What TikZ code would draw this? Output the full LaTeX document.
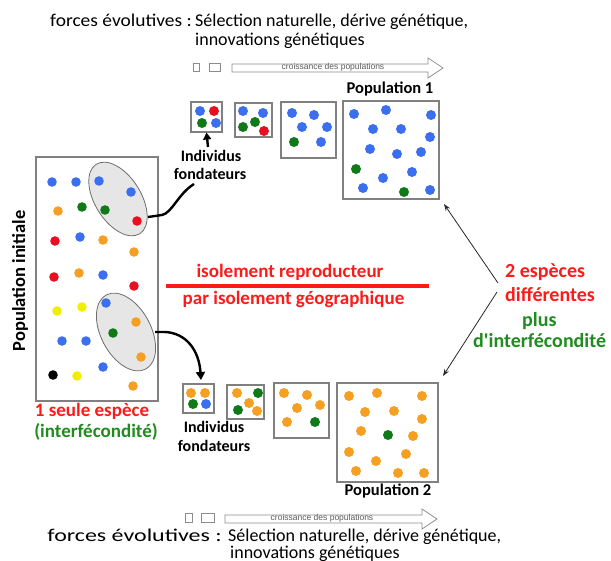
\documentclass[tikz,border=0pt]{standalone}
\usepackage{fontspec}
\setmainfont{Carlito}
\newfontfamily\arialf{Liberation Sans}
\newfontfamily\carlplain{Carlito}[Ligatures=ResetAll]
\usetikzlibrary{shapes.geometric,arrows.meta}
\definecolor{dB}{HTML}{3C6EF0}
\definecolor{dR}{HTML}{E81020}
\definecolor{dG}{HTML}{107A18}
\definecolor{dO}{HTML}{F5A023}
\definecolor{dY}{HTML}{F2EE00}
\definecolor{dK}{HTML}{000000}
\definecolor{tred}{HTML}{FF1A1A}
\definecolor{tgreen}{HTML}{1E8C1E}
\definecolor{boxgray}{HTML}{808080}
\definecolor{ellfill}{HTML}{E6E6E6}
\definecolor{ellline}{HTML}{6E6E6E}
\definecolor{rowgray}{HTML}{8C8C8C}
\definecolor{rowtxt}{HTML}{5A5A5A}
\begin{document}
\begin{tikzpicture}[x=1pt,y=-1pt,
  popbox/.style={draw=boxgray, line width=1.1pt, inner sep=0pt},
  smallbox/.style={draw=rowgray, line width=0.7pt, inner sep=0pt, minimum height=8pt},
  ell/.style={ellipse, draw=ellline, fill=ellfill, line width=0.8pt, inner sep=0pt},
  lbl/.style={inner sep=0pt, font=\fontsize{18}{20}\selectfont},
  blbl/.style={inner sep=0pt, font=\bfseries\fontsize{16.5}{18}\selectfont},
  redlbl/.style={inner sep=0pt, text=tred, font=\bfseries\fontsize{19}{21}\selectfont},
  greenlbl/.style={inner sep=0pt, text=tgreen, font=\bfseries\fontsize{19}{21}\selectfont},
  rowtext/.style={inner sep=0pt, text=rowtxt, font=\arialf\fontsize{8.5}{9}\selectfont},
  thickcon/.style={line width=2.4pt, black},
  thincon/.style={line width=0.8pt, black!85, -{Stealth[length=7pt,width=5pt]}},
]
\useasboundingbox (0,0) rectangle (611,561);

% ---------- top text ----------
\node[lbl, anchor=base east] (ftop) at (192,27) {\scalebox{1.08}[1]{forces évolutives :}};
\node[lbl, anchor=base west] (stop1) at (195,27) {Sélection naturelle, dérive génétique,};
\node[lbl, anchor=base west] (stop2) at (195,46) {innovations génétiques};

% ---------- top growth row ----------
\node[smallbox, minimum width=6pt] (tr1) at (196,67) {};
\node[smallbox, minimum width=11pt] (tr2) at (214.5,67) {};
\draw[rowgray, line width=0.7pt] (232,64) -- (428,64) -- (428,58) -- (443,68) -- (428,78) -- (428,72) -- (232,72) -- cycle;
\node[rowtext] (trt) at (333,67.5) {croissance des populations};

% ---------- top populations ----------
\node[popbox, minimum width=31pt, minimum height=30pt] (ta) at (206.5,117) {};
\node[popbox, minimum width=37pt, minimum height=34pt] (tb) at (253.5,120) {};
\node[popbox, minimum width=55pt, minimum height=56pt] (tc) at (308.5,130) {};
\node[popbox, minimum width=96pt, minimum height=98pt] (p1) at (391,150) {};
\node[blbl, anchor=base] (p1t) at (390,94) {Population 1};

\foreach \x/\y/\c in {200/111/dB,214/111/dR,202/123/dG,216/123/dB,
  243/111/dB,263/113/dB,255/122/dG,243/127/dG,264/131/dR,
  292/113/dB,314/115/dB,302/127/dB,327/127/dB,294/142/dG,321/142/dB,
  354/114/dB,386/110/dB,431/115/dB,373/129/dB,401/129/dB,430/137/dB,
  370/149/dB,397/154/dB,421/152/dB,356/169/dG,412/172/dB,383/178/dB,
  363/188/dB,404/192/dG,430/190/dB}
  \fill[\c] (\x,\y) circle[radius=5];

\node[blbl, anchor=base, font=\bfseries\fontsize{16}{18}\selectfont] (tind) at (211,162) {Individus};
\node[blbl, anchor=base, font=\bfseries\fontsize{16}{18}\selectfont] (tfon) at (210,180) {fondateurs};
\coordinate (tarrs) at (208,147);
\draw[thickcon, -{Triangle[length=7pt,width=8pt]}] (tarrs) -- (ta.south);

% ---------- initial population ----------
\node[popbox, minimum width=122pt, minimum height=244pt] (init) at (97,279) {};
\node[ell, minimum width=46pt, minimum height=82pt, rotate=32] (e1) at (118,199) {};
\node[ell, minimum width=50pt, minimum height=84pt, rotate=28] (e2) at (126,332) {};

\foreach \x/\y/\c in {52/182/dB,76/182/dB,99/181/dB,131/192/dB,
  58/211/dO,82/207/dG,105/210/dG,137/221/dR,
  55/241/dR,80/237/dB,103/240/dO,134/252/dO,
  54/277/dR,79/273/dO,103/275/dB,134/286/dR,
  57/311/dY,82/307/dY,106/303/dB,136/322/dO,
  113/333/dG,62/341/dB,86/341/dB,141/357/dO,
  53/375/dK,77/376/dY,103/367/dB,133/386/dO}
  \fill[\c] (\x,\y) circle[radius=4.8];

\node[inner sep=0pt, anchor=base, rotate=90, font=\bfseries\fontsize{18.5}{20}\selectfont] (pinit) at (25,281) {Population initiale};
\node[redlbl, anchor=base] (seule) at (92,417) {1 seule espèce};
\node[greenlbl, anchor=base] (interf) at (96,438) {(interfécondité)};

% connectors from ellipses
\coordinate (c1s) at (148,217);
\coordinate (c1e) at (194,184);
\draw[thickcon] (c1s) -- (162,215) .. controls (172,213) and (178,194) .. (c1e);
\coordinate (c2s) at (155,332);
\coordinate (c2e) at (201,380);
\draw[thickcon, -{Triangle[length=8pt,width=9pt]}] (c2s) -- (165,332) .. controls (186,333) and (199,350) .. (c2e);

% ---------- central text ----------
\coordinate (rl1) at (166,286);
\coordinate (rl2) at (429,286);
\draw[tred, line width=4pt] (rl1) -- (rl2);
\node[redlbl, anchor=base] (iso1) at (290,278) {isolement reproducteur};
\node[redlbl, anchor=base] (iso2) at (293.5,305) {par isolement géographique};

% ---------- right text ----------
\node[redlbl, anchor=base west, font=\bfseries\fontsize{20}{22}\selectfont] (esp1) at (505,278) {2 espèces};
\node[redlbl, anchor=base west, font=\bfseries\fontsize{20}{22}\selectfont] (esp2) at (505,302) {différentes};
\node[greenlbl, anchor=base west, font=\bfseries\fontsize{20}{22}\selectfont] (esp3) at (522,327) {plus};
\node[greenlbl, anchor=base west, font=\carlplain\bfseries\fontsize{20}{22}\selectfont] (esp4) at (473,348) {d'interfécondité};
\coordinate (ra1) at (498,283);
\coordinate (ra2) at (497,292);
\coordinate (rt1) at (444,204);
\coordinate (rt2) at (443,376);
\draw[thincon] (ra1) -- (rt1);
\draw[thincon] (ra2) -- (rt2);

% ---------- bottom populations ----------
\node[popbox, minimum width=31pt, minimum height=29pt] (ba) at (198.5,398.5) {};
\node[popbox, minimum width=37pt, minimum height=34pt] (bb) at (245.5,402) {};
\node[popbox, minimum width=55pt, minimum height=55pt] (bc) at (301.5,410.5) {};
\node[popbox, minimum width=101pt, minimum height=99pt] (p2) at (387.5,432.5) {};
\node[blbl, anchor=base] (p2t) at (388,496) {Population 2};

\foreach \x/\y/\c in {191/393/dO,205/393/dO,193/404/dG,206/404/dB,
  237/393/dO,258/393/dG,249/403/dO,238/410/dG,257/411/dO,
  284/393/dO,307/395/dO,297/408/dO,320/405/dO,287/422/dO,315/422/dG,
  349/396/dO,377/393/dO,422/396/dO,365/412/dO,394/411/dO,422/419/dO,
  361/431/dO,388/435/dG,413/436/dO,349/452/dO,406/454/dO,376/461/dO,
  356/471/dO,398/473/dO,424/473/dO}
  \fill[\c] (\x,\y) circle[radius=5];

\node[blbl, anchor=base, font=\bfseries\fontsize{16}{18}\selectfont] (bind) at (214,433) {Individus};
\node[blbl, anchor=base, font=\bfseries\fontsize{16}{18}\selectfont] (bfon) at (214,452) {fondateurs};

% ---------- bottom growth row ----------
\node[smallbox, minimum width=7pt, minimum height=9pt] (br1) at (188.5,517.5) {};
\node[smallbox, minimum width=13pt, minimum height=9pt] (br2) at (207.5,517.5) {};
\draw[rowgray, line width=0.7pt] (225,515) -- (422,515) -- (422,509) -- (437,519) -- (422,529) -- (422,523) -- (225,523) -- cycle;
\node[rowtext] (brt) at (322,518.5) {croissance des populations};

% ---------- bottom text ----------
\node[lbl, anchor=base east] (fbot) at (222,541) {\scalebox{1.33}[1]{forces évolutives :}};
\node[lbl, anchor=base west] (sbot1) at (228,541) {Sélection naturelle, dérive génétique,};
\node[lbl, anchor=base west] (sbot2) at (230,558) {innovations génétiques};
\end{tikzpicture}
\end{document}
